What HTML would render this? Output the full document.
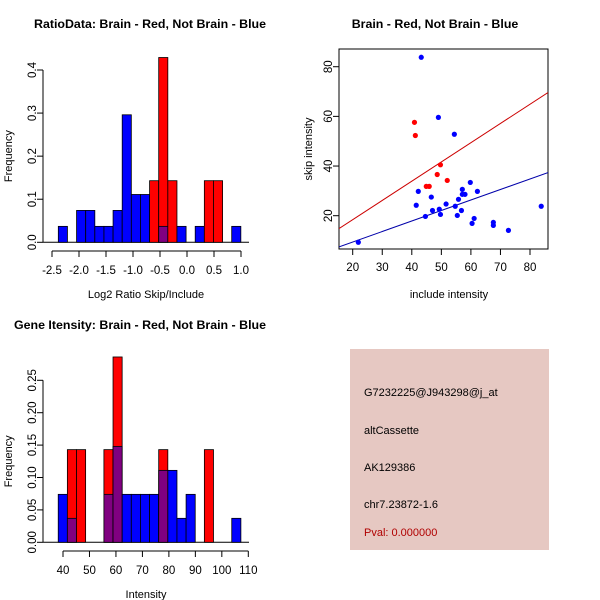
<!DOCTYPE html>
<html><head><meta charset="utf-8"><style>
body{margin:0;background:#fff}
svg{display:block;font-family:"Liberation Sans",sans-serif}
</style></head><body>
<svg id="s" width="600" height="600" xmlns="http://www.w3.org/2000/svg">
<text x="150" y="28" text-anchor="middle" font-weight="bold" font-size="12.4">RatioData: Brain - Red, Not Brain - Blue</text>
<text x="435" y="28" text-anchor="middle" font-weight="bold" font-size="12.4">Brain - Red, Not Brain - Blue</text>
<text x="140" y="329" text-anchor="middle" font-weight="bold" font-size="12.4">Gene Itensity: Brain - Red, Not Brain - Blue</text>
<g id="g1"></g>
<g id="g2"></g>
<g id="g3"></g>
<g>
<rect x="350" y="349" width="199" height="201" fill="#e6c8c2"/>
<text x="364" y="396" font-size="11">G7232225@J943298@j_at</text>
<text x="364" y="434" font-size="11">altCassette</text>
<text x="364" y="471" font-size="11">AK129386</text>
<text x="364" y="508" font-size="11">chr7.23872-1.6</text>
<text x="364" y="536" font-size="11" fill="#b00000">Pval: 0.000000</text>
</g>
</svg>
<script>
// Ratio histogram data
const ratioStart=-2.383, ratioWidth=0.169;
const ratioBlue=[0.037,0,0.074,0.074,0.037,0.037,0.074,0.296,0.111,0.111,0,0.037,0,0.037,0,0.037,0,0,0,0.037];
const ratioRed=[0,0,0,0,0,0,0,0,0,0,0.143,0.429,0.143,0,0,0,0.143,0.143,0,0];
const ratioXTicks=[-2.5,-2.0,-1.5,-1.0,-0.5,0.0,0.5,1.0];
const ratioYTicks=[0.0,0.1,0.2,0.3,0.4];
// Intensity histogram data
const intStart=38.2, intWidth=3.45;
const intBlue=[0.074,0.037,0,0,0,0.074,0.148,0.074,0.074,0.074,0.074,0.111,0.111,0.037,0.074,0,0,0,0,0.037];
const intRed=[0,0.143,0.143,0,0,0.143,0.286,0,0,0,0,0.143,0,0,0,0,0.143,0,0,0];
const intXTicks=[40,50,60,70,80,90,100,110];
const intYTicks=[0.00,0.05,0.10,0.15,0.20,0.25];
// Scatter data
const blueX=[43.2,49.0,54.4,59.8,57.1,62.2,42.2,58.0,57.1,46.6,55.8,41.5,51.6,54.7,83.8,44.6,47.0,49.3,56.8,49.7,55.4,61.1,60.4,67.6,67.6,72.7,21.9];
const blueY=[83.8,59.6,52.8,33.4,30.6,29.8,29.8,28.6,28.6,27.5,26.6,24.2,24.7,23.8,23.8,19.7,22.1,22.6,22.1,20.5,20.1,18.9,16.9,16.1,17.3,14.1,9.3];
const redX=[40.9,41.2,49.7,48.6,52.0,44.9,45.9];
const redY=[57.6,52.3,40.5,36.6,34.2,31.8,31.8];
const redLine=[2.9,0.775];
const blueLine=[0.94,0.423];
const scXTicks=[20,30,40,50,60,70,80];
const scYTicks=[20,40,60,80];

const NS="http://www.w3.org/2000/svg";
function mk(parent,tag,attrs,txt){const e=document.createElementNS(NS,tag);for(const k in attrs)e.setAttribute(k,attrs[k]);if(txt!==undefined)e.textContent=txt;parent.appendChild(e);return e;}

function hist(g,cfg){
  const sx=v=>cfg.x0+(v-cfg.xa)*(cfg.x1-cfg.x0)/(cfg.xb-cfg.xa);
  const sy=v=>cfg.y0-(v-cfg.ya)*(cfg.y0-cfg.y1)/(cfg.yb-cfg.ya);
  mk(g,'line',{x1:43,x2:249,y1:sy(0),y2:sy(0),stroke:'#000'});
  for(let i=0;i<cfg.blue.length;i++){
    const b=cfg.blue[i],r=cfg.red[i];
    const xl=sx(cfg.start+i*cfg.w),xr=sx(cfg.start+(i+1)*cfg.w);
    const lo=Math.min(b,r),hi=Math.max(b,r);
    if(hi>0){
      const e=mk(g,'rect',{x:xl,y:sy(hi),width:xr-xl,height:sy(0)-sy(hi),fill:b>=r?'#0000ff':'#ff0000',stroke:'#000','stroke-width':0.8});
      
      
    }
    if(lo>0){
      const e=mk(g,'rect',{x:xl,y:sy(lo),width:xr-xl,height:sy(0)-sy(lo),fill:'#800080',stroke:'#000','stroke-width':0.8});
      
      
    }
  }
  const ay=cfg.axY;
  mk(g,'line',{x1:sx(cfg.xt[0]),x2:sx(cfg.xt[cfg.xt.length-1]),y1:ay,y2:ay,stroke:'#000'});
  cfg.xt.forEach(t=>{mk(g,'line',{x1:sx(t),x2:sx(t),y1:ay,y2:ay+6,stroke:'#000'});
    const e=mk(g,'text',{x:sx(t),y:ay+23,'text-anchor':'middle','font-size':11.5},cfg.xfmt(t));
    });
  const ax=43;
  mk(g,'line',{x1:ax,x2:ax,y1:sy(cfg.yt[0]),y2:sy(cfg.yt[cfg.yt.length-1]),stroke:'#000'});
  cfg.yt.forEach(t=>{mk(g,'line',{x1:ax,x2:ax-6,y1:sy(t),y2:sy(t),stroke:'#000'});
    const e=mk(g,'text',{x:0,y:0,'text-anchor':'middle','font-size':11.5,transform:`translate(36,${sy(t)}) rotate(-90)`},cfg.yfmt(t));
    });
  const xt=mk(g,'text',{x:146,y:ay+47,'text-anchor':'middle','font-size':11},cfg.xlab);
  
  const yt=mk(g,'text',{x:0,y:0,'text-anchor':'middle','font-size':11,transform:`translate(12,${(sy(0)+sy(cfg.yt[cfg.yt.length-1]))/2}) rotate(-90)`},'Frequency');
  
}
hist(document.getElementById('g1'),{x0:52,x1:241,xa:-2.5,xb:1.0,y0:242.3,y1:70,ya:0,yb:0.4,start:ratioStart,w:ratioWidth,blue:ratioBlue,red:ratioRed,xt:ratioXTicks,yt:ratioYTicks,axY:251,xfmt:t=>t.toFixed(1),yfmt:t=>t.toFixed(1),xlab:'Log2 Ratio Skip/Include'});
hist(document.getElementById('g3'),{x0:63,x1:248.3,xa:40,xb:110,y0:542.3,y1:380.3,ya:0,yb:0.25,start:intStart,w:intWidth,blue:intBlue,red:intRed,xt:intXTicks,yt:intYTicks,axY:551,xfmt:t=>String(t),yfmt:t=>t.toFixed(2),xlab:'Intensity'});

(function(){
  const g=document.getElementById('g2');
  const sx=v=>352.7+(v-20)*2.955, sy=v=>215.7-(v-20)*2.483;
  const L=339,R=548,T=49,B=249;
  mk(g,'rect',{x:L,y:T,width:R-L,height:B-T,fill:'none',stroke:'#000'});
  scXTicks.forEach(t=>{mk(g,'line',{x1:sx(t),x2:sx(t),y1:B,y2:B+6,stroke:'#000'});
    const e=mk(g,'text',{x:sx(t),y:B+22,'text-anchor':'middle','font-size':11.5},t);
    });
  scYTicks.forEach(t=>{mk(g,'line',{x1:L,x2:L-6,y1:sy(t),y2:sy(t),stroke:'#000'});
    const e=mk(g,'text',{x:0,y:0,'text-anchor':'middle','font-size':11.5,transform:`translate(332,${sy(t)}) rotate(-90)`},t);
    });
  const clip=mk(g,'clipPath',{id:'cp'});mk(clip,'rect',{x:L,y:T,width:R-L,height:B-T});
  const xa=(L-352.7)/2.955+20, xb=(R-352.7)/2.955+20;
  [[redLine,'#cc0000','red-regression-line'],[blueLine,'#0000aa','blue-regression-line']].forEach(([c,col,n])=>{
    const e=mk(g,'line',{x1:sx(xa),x2:sx(xb),y1:sy(c[0]+c[1]*xa),y2:sy(c[0]+c[1]*xb),stroke:col,'clip-path':'url(#cp)'});
    
  });
  blueX.forEach((x,i)=>{const e=mk(g,'circle',{cx:sx(x),cy:sy(blueY[i]),r:2.6,fill:'#0000ff'});
    });
  redX.forEach((x,i)=>{const e=mk(g,'circle',{cx:sx(x),cy:sy(redY[i]),r:2.6,fill:'#ff0000'});
    });
  const xt=mk(g,'text',{x:449,y:298,'text-anchor':'middle','font-size':11},'include intensity');
  
  const yt=mk(g,'text',{x:0,y:0,'text-anchor':'middle','font-size':11,transform:'translate(312,149) rotate(-90)'},'skip intensity');
  
})();
</script>
</body></html>
